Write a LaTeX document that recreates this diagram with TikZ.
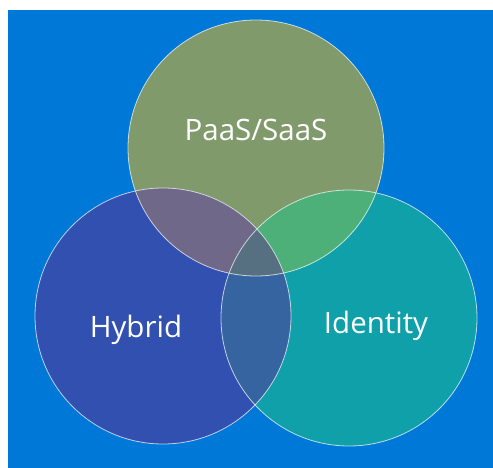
\documentclass[tikz,border=0pt]{standalone}
\usepackage{fontspec}
\setmainfont{Open Sans}
\usepackage{tikz}

\definecolor{bgblue}{RGB}{0,120,215}
\definecolor{paasfill}{RGB}{128,154,108}
\definecolor{hybfill}{RGB}{50,80,176}
\definecolor{idfill}{RGB}{16,160,170}
\definecolor{phfill}{RGB}{112,104,136}
\definecolor{pifill}{RGB}{76,176,120}
\definecolor{hifill}{RGB}{54,100,160}
\definecolor{allfill}{RGB}{86,112,130}

\tikzset{
  ring/.style={draw=white, draw opacity=0.7, line width=0.8pt},
  setlabel/.style={text=white, font=\fontsize{29.5}{32}\selectfont}
}

\begin{document}
\begin{tikzpicture}[x=1pt,y=-1pt]
\useasboundingbox (0,0) rectangle (493,468);
\fill[bgblue] (8,10) rectangle (493,468);

\coordinate (cp) at (256,148);
\coordinate (ch) at (163,316);
\coordinate (ci) at (349,318);

% single sets
\fill[paasfill] (cp) circle (128pt);
\fill[hybfill] (ch) circle (128pt);
\fill[idfill] (ci) circle (128pt);

% overlaps
\begin{scope}
\clip (cp) circle (128pt);
\fill[phfill] (ch) circle (128pt);
\fill[pifill] (ci) circle (128pt);
\end{scope}
\begin{scope}
\clip (ch) circle (128pt);
\fill[hifill] (ci) circle (128pt);
\clip (cp) circle (128pt);
\fill[allfill] (ci) circle (128pt);
\end{scope}

\draw[ring] (cp) circle (128pt);
\draw[ring] (ch) circle (128pt);
\draw[ring] (ci) circle (128pt);

\node[setlabel] (paas) at (256,130) {PaaS/SaaS};
\node[setlabel] (hybrid) at (136,330) {Hybrid};
\node[setlabel] (identity) at (376,326) {Identity};

\end{tikzpicture}
\end{document}
